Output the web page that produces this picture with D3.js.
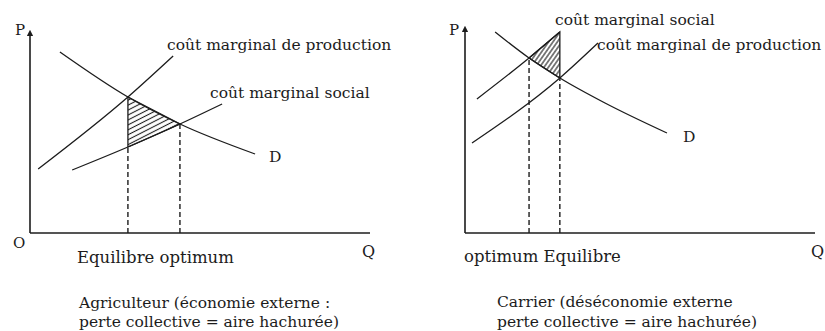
<!DOCTYPE html>
<html lang="fr">
<head>
<meta charset="UTF-8">
<title>Economie externe / deseconomie externe</title>
<style>
  body { margin: 0; background: #fff; }
  svg { display: block; }
  svg text { font-family: "DejaVu Serif", "Liberation Serif", serif; fill: #1c1c1c; font-size: 15.5px; }
  svg .axis { stroke: #1c1c1c; stroke-width: 1.6px; fill: none; }
  svg .curve { stroke: #1c1c1c; stroke-width: 1.3px; fill: none; }
  svg .guide { stroke: #1c1c1c; stroke-width: 1.4px; stroke-dasharray: 5,3; }
  svg .area { stroke: #1c1c1c; stroke-width: 1.3px; }
</style>
</head>
<body>
<div id="chart"></div>
<script src="https://cdnjs.cloudflare.com/ajax/libs/d3/7.8.5/d3.min.js"></script>
<script>
  // panel 1 : agriculteur (economie externe), Q and P in 0..100
  var agriDemand = [[8.8, 90.5], [28.8, 68], [44.1, 54.5], [66.2, 39.5]];
  var agriCmProd = [[2.4, 32], [28.8, 68], [42.1, 88.5]];
  var agriCmSocial = [[12.4, 31.5], [28.8, 43], [44.1, 54.5], [56.5, 64.5]];
  var agriQ = [28.8, 44.1]; // optimum, equilibre (x order)

  // panel 2 : carrier (deseconomie externe)
  var carDemand = [[8.6, 100.5], [18.3, 87.5], [27.1, 77.5], [40, 65], [57.7, 50]];
  var carCmSocial = [[3.4, 67], [18.3, 87.5], [27.1, 100.5]];
  var carCmProd = [[2, 45], [27.1, 77.5], [38, 95]];
  var carQ = [18.3, 27.1]; // optimum, equilibre

  var agriLabels = ['coût marginal de production', 'coût marginal social', 'D', 'Equilibre optimum',
    'Agriculteur (économie externe :', 'perte collective = aire hachurée)'];
  var carLabels = ['coût marginal social', 'coût marginal de production', 'D', 'optimum  Equilibre',
    'Carrier (déséconomie externe', 'perte collective = aire hachurée)'];

  var width = 825, height = 331;

  var svg = d3.select('#chart').append('svg')
    .attr('width', width)
    .attr('height', height);

  var defs = svg.append('defs');

  var addHatch = function(id, size, angle) {
    defs.append('pattern')
      .attr('id', id)
      .attr('patternUnits', 'userSpaceOnUse')
      .attr('width', 10)
      .attr('height', size)
      .attr('patternTransform', 'rotate(' + angle + ')')
      .append('line')
      .attr('x1', 0).attr('y1', size / 2)
      .attr('x2', 10).attr('y2', size / 2)
      .attr('stroke', '#1c1c1c')
      .attr('stroke-width', 1.1);
  };
  addHatch('hatch-agri', 4.4, -27);
  addHatch('hatch-car', 3.6, -55);

  defs.append('marker')
    .attr('id', 'arrow')
    .attr('viewBox', '0 0 6 6')
    .attr('refX', 3).attr('refY', 3)
    .attr('markerWidth', 4).attr('markerHeight', 4)
    .attr('orient', 'auto')
    .append('path')
    .attr('d', 'M0,0 L6,3 L0,6 Z')
    .attr('fill', '#1c1c1c');

  var lineAt = function(x, y) {
    return d3.line()
      .x(function(d) { return x(d[0]); })
      .y(function(d) { return y(d[1]); })
      .curve(d3.curveMonotoneX);
  };

  var drawPanel = function(opt) {
    var x = d3.scaleLinear().domain([0, 100]).range(opt.xRange),
      y = d3.scaleLinear().domain([0, 100]).range([233, 33]),
      g = svg.append('g'),
      line = lineAt(x, y);

    // hatched area first
    g.append('path')
      .attr('class', 'area')
      .attr('fill', 'url(#' + opt.hatch + ')')
      .attr('d', d3.line().x(function(d) { return x(d[0]); }).y(function(d) { return y(d[1]); })(opt.area) + 'Z');

    // axes
    g.append('line').attr('class', 'axis')
      .attr('x1', x(0)).attr('y1', y(0))
      .attr('x2', x(100)).attr('y2', y(0));
    g.append('line').attr('class', 'axis')
      .attr('x1', x(0)).attr('y1', y(0))
      .attr('x2', x(0)).attr('y2', y(opt.yTop))
      .attr('marker-end', 'url(#arrow)');

    // dashed guides
    opt.guides.forEach(function(gd) {
      g.append('line').attr('class', 'guide')
        .attr('x1', x(gd[0])).attr('y1', y(0))
        .attr('x2', x(gd[0])).attr('y2', y(gd[1]));
    });

    opt.curves.forEach(function(c) {
      g.append('path').attr('class', 'curve').attr('d', line(c));
    });

    opt.texts.forEach(function(t) {
      g.append('text')
        .attr('x', t[0]).attr('y', t[1])
        .style('font-size', (t[3] || 15.5) + 'px')
        .text(t[2]);
    });
  };

  drawPanel({
    xRange: [30, 370],
    yTop: 100,
    hatch: 'hatch-agri',
    area: [agriDemand[1], agriDemand[2], agriCmSocial[1]],
    guides: [[agriQ[0], agriCmSocial[1][1]], [agriQ[1], agriCmSocial[2][1]]],
    curves: [agriDemand, agriCmProd, agriCmSocial],
    texts: [
      [15, 35, 'P', 15], [13, 248, 'O', 15], [362, 257, 'Q', 16],
      [167, 50, agriLabels[0]], [210, 98, agriLabels[1]], [269, 162, agriLabels[2]],
      [77, 263, agriLabels[3], 16.5], [79, 308, agriLabels[4]], [79, 327, agriLabels[5]]
    ]
  });

  drawPanel({
    xRange: [465, 815],
    yTop: 102,
    hatch: 'hatch-car',
    area: [carCmSocial[1], carCmSocial[2], carDemand[2]],
    guides: [[carQ[0], carDemand[1][1]], [carQ[1], carDemand[2][1]]],
    curves: [carDemand, carCmSocial, carCmProd],
    texts: [
      [449, 35, 'P', 15], [811, 257, 'Q', 16],
      [555, 25, carLabels[0]], [597, 50, carLabels[1]], [683, 142, carLabels[2]],
      [464, 262, carLabels[3], 16.5], [497, 307, carLabels[4]], [497, 327, carLabels[5]]
    ]
  });
</script>
</body>
</html>
